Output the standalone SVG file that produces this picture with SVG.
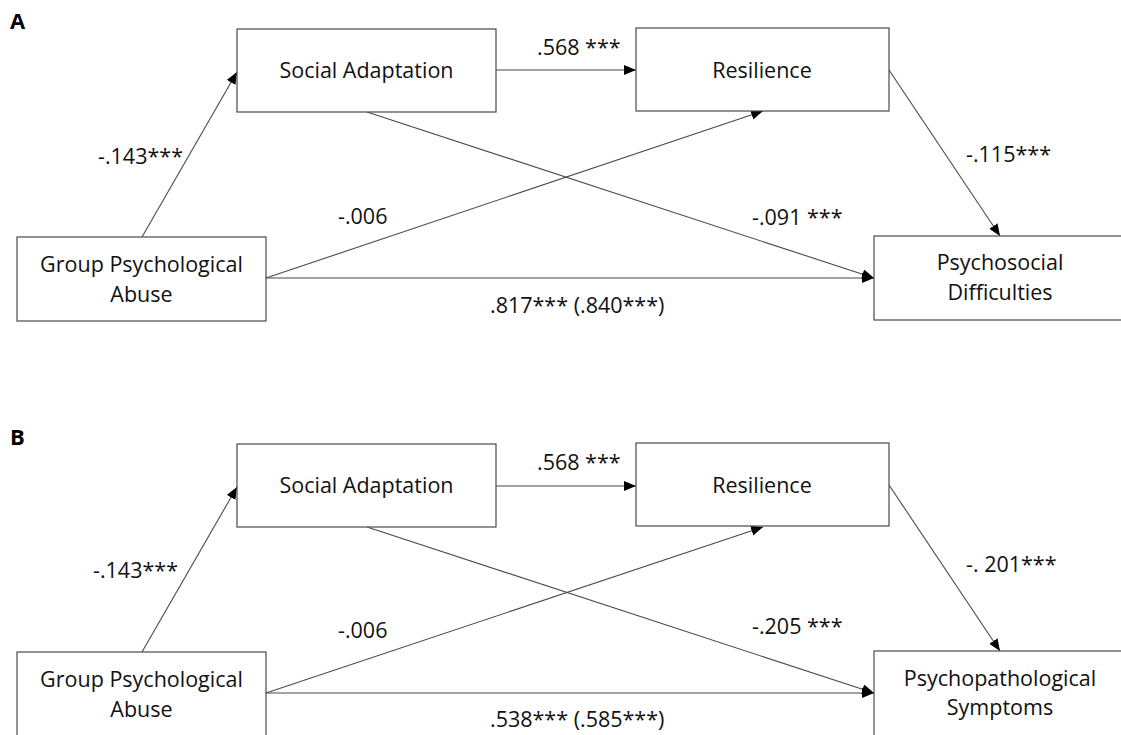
<svg xmlns="http://www.w3.org/2000/svg" width="1121" height="735" viewBox="0 0 1121 735">
<defs>
<marker id="arr" markerUnits="userSpaceOnUse" markerWidth="14" markerHeight="12" refX="12" refY="5" orient="auto">
<path d="M0,0 L12,5 L0,10 z" fill="#000"/>
</marker>
<style>
.box{fill:#fff;stroke:#4a4a4a;stroke-width:1.2}
.t{font-family:"Open Sans","Liberation Sans",sans-serif;font-size:21.5px;fill:#111}
.c{text-anchor:middle}
.lab{font-family:"Open Sans","Liberation Sans",sans-serif;font-size:22px;font-weight:bold;fill:#000}
.e{stroke:#4a4a4a;stroke-width:1.1;fill:none;marker-end:url(#arr)}
</style>
</defs>
<rect width="1121" height="735" fill="#fff"/>
<text class="lab" x="10" y="29">A</text>
<text class="lab" x="10" y="445">B</text>
<g id="connectors">
<path class="e" d="M142,237 L237,72"/>
<path class="e" d="M496,70 L636,70"/>
<path class="e" d="M266,278 L763,111"/>
<path class="e" d="M367,112 L874,278"/>
<path class="e" d="M266,278 L874,278"/>
<path class="e" d="M889,70 L1000,236"/>
<path class="e" d="M142,652 L237,487"/>
<path class="e" d="M496,486 L636,486"/>
<path class="e" d="M266,693 L763,527"/>
<path class="e" d="M367,527 L874,693"/>
<path class="e" d="M266,693 L874,693"/>
<path class="e" d="M889,485 L1000,651"/>
</g>
<g id="a-social"><rect class="box" x="237" y="29" width="259" height="83"/><text class="t c" x="366.5" y="78">Social Adaptation</text></g>
<g id="a-resilience"><rect class="box" x="636" y="28" width="253" height="83"/><text class="t c" x="762" y="78">Resilience</text></g>
<g id="a-abuse"><rect class="box" x="17" y="237" width="249" height="84"/><text class="t c" x="141.5" y="272">Group Psychological</text><text class="t c" x="141.5" y="302">Abuse</text></g>
<g id="a-psychosocial"><rect class="box" x="874" y="236" width="260" height="84"/><text class="t c" x="1000" y="270">Psychosocial</text><text class="t c" x="1000" y="300">Difficulties</text></g>
<g id="b-social"><rect class="box" x="237" y="444" width="259" height="83"/><text class="t c" x="366.5" y="493">Social Adaptation</text></g>
<g id="b-resilience"><rect class="box" x="636" y="443" width="253" height="83"/><text class="t c" x="762" y="493">Resilience</text></g>
<g id="b-abuse"><rect class="box" x="17" y="652" width="249" height="90"/><text class="t c" x="141.5" y="687">Group Psychological</text><text class="t c" x="141.5" y="717">Abuse</text></g>
<g id="b-psychopath"><rect class="box" x="874" y="651" width="260" height="90"/><text class="t c" x="1000" y="686">Psychopathological</text><text class="t c" x="1000" y="715">Symptoms</text></g>
<g id="labels">
<text class="t" x="98" y="164">-.143***</text>
<text class="t" x="537" y="55">.568 ***</text>
<text class="t" x="338" y="224">-.006</text>
<text class="t" x="752" y="225">-.091 ***</text>
<text class="t" x="966" y="162">-.115***</text>
<text class="t" x="490" y="313">.817*** (.840***)</text>
<text class="t" x="93" y="578">-.143***</text>
<text class="t" x="537" y="470">.568 ***</text>
<text class="t" x="338" y="638">-.006</text>
<text class="t" x="752" y="634">-.205 ***</text>
<text class="t" x="966" y="572">-. 201***</text>
<text class="t" x="490" y="727">.538*** (.585***)</text>
</g>
</svg>
